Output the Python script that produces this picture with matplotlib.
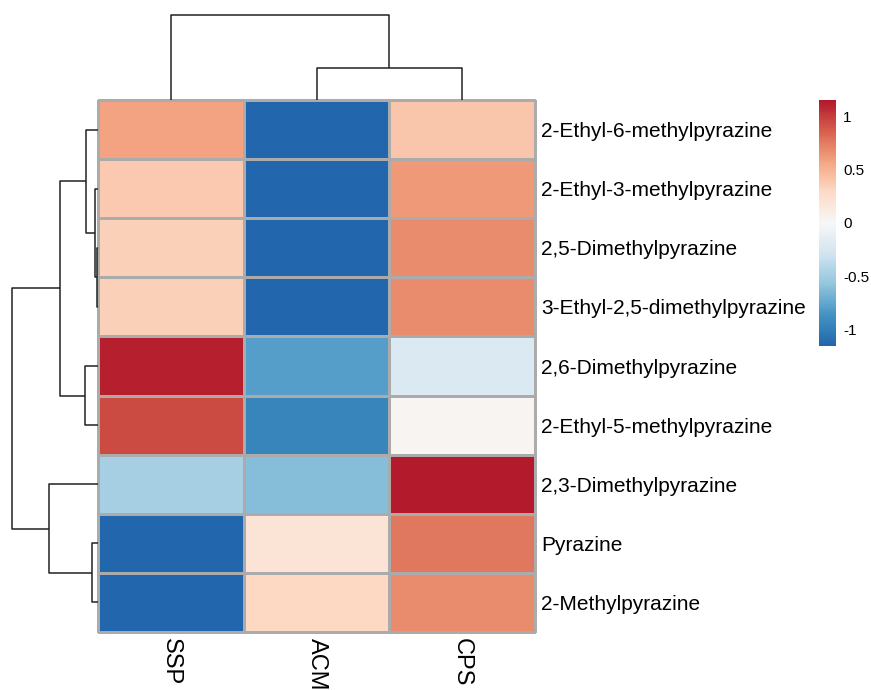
import numpy as np
import matplotlib
matplotlib.use("Agg")
import matplotlib.pyplot as plt
from matplotlib.colors import LinearSegmentedColormap

plt.rcParams['font.family'] = ['Liberation Sans', 'DejaVu Sans']

# rows in display order (top to bottom), columns left to right
compounds = [
    "2-Ethyl-6-methylpyrazine",
    "2-Ethyl-3-methylpyrazine",
    "2,5-Dimethylpyrazine",
    "3-Ethyl-2,5-dimethylpyrazine",
    "2,6-Dimethylpyrazine",
    "2-Ethyl-5-methylpyrazine",
    "2,3-Dimethylpyrazine",
    "Pyrazine",
    "2-Methylpyrazine",
]
samples = ["SSP", "ACM", "CPS"]

# row-scaled values (z-scores)
ssp = [0.58, 0.38, 0.35, 0.35, 1.12, 0.95, -0.48, -1.14, -1.14]
acm = [-1.14, -1.14, -1.14, -1.14, -0.80, -0.95, -0.62, 0.20, 0.30]
cps = [0.40, 0.63, 0.68, 0.68, -0.22, 0.03, 1.14, 0.76, 0.68]

# hierarchical clustering merges: (left, right, height); new ids follow the leaves
row_merges = [(2, 3, 0.015), (1, 9, 0.11), (0, 10, 0.57), (4, 5, 0.64),
              (11, 12, 1.86), (7, 8, 0.26), (6, 14, 2.41), (13, 15, 4.19)]
col_merges = [(1, 2, 1.52), (0, 3, 4.03)]

cbar_ticks = [-1, -0.5, 0, 0.5, 1]
cbar_labels = ["-1", "-0.5", "0", "0.5", "1"]

lim = 2 / np.sqrt(3)
cmap = LinearSegmentedColormap.from_list(
    "rdbu", ["#2166ac", "#4393c3", "#92c5de", "#d1e5f0", "#f7f7f7",
             "#fddbc7", "#f4a582", "#d6604d", "#b2182b"])

W, H = 871, 690
fig = plt.figure(figsize=(W / 100, H / 100), dpi=100)


def px_axes(x0, y0, x1, y1):
    return fig.add_axes([x0 / W, 1 - y1 / H, (x1 - x0) / W, (y1 - y0) / H])


def dendro_segments(merges, n):
    pos = {i: i + 0.5 for i in range(n)}
    hgt = {i: 0.0 for i in range(n)}
    segs = []
    for k, (a, b, h) in enumerate(merges):
        segs.append(([pos[a], pos[a], pos[b], pos[b]], [hgt[a], h, h, hgt[b]]))
        pos[n + k] = (pos[a] + pos[b]) / 2
        hgt[n + k] = h
    return segs


data = np.array([ssp, acm, cps]).T
nr, nc = data.shape

# heatmap
ax = px_axes(98, 100, 535, 632)
mesh = ax.pcolormesh(data, cmap=cmap, vmin=-lim, vmax=lim,
                     edgecolors="#ababab", linewidth=0.8)
mesh.set_clip_on(False)
ax.set_xlim(0, nc)
ax.set_ylim(nr, 0)
for s in ax.spines.values():
    s.set_visible(False)
ax.yaxis.tick_right()
ax.set_yticks(np.arange(nr) + 0.5)
ax.set_yticklabels(compounds, fontsize=15)
ax.set_xticks(np.arange(nc) + 0.5)
ax.set_xticklabels(samples, fontsize=17, rotation=270)
ax.tick_params(length=0, pad=4.5)
ax.tick_params(axis="x", pad=4)

# row dendrogram
axr = px_axes(12.3, 100, 97.7, 632)
for p, h in dendro_segments(row_merges, nr):
    axr.plot(h, p, color="#222222", lw=1.1, clip_on=False,
             solid_capstyle="butt")
axr.set_xlim(row_merges[-1][2], 0)
axr.set_ylim(nr, 0)
axr.axis("off")

# column dendrogram
axc = px_axes(98, 15, 535, 100)
for p, h in dendro_segments(col_merges, nc):
    axc.plot(p, h, color="#222222", lw=1.1, clip_on=False,
             solid_capstyle="butt")
axc.set_xlim(0, nc)
axc.set_ylim(0, col_merges[-1][2])
axc.axis("off")

# colour bar
cax = px_axes(819, 100, 836, 346)
cb = fig.colorbar(mesh, cax=cax)
cb.outline.set_visible(False)
cb.set_ticks(cbar_ticks)
cb.set_ticklabels(cbar_labels)
cb.ax.tick_params(length=0, labelsize=11, pad=5)

fig.savefig("out.png", dpi=100)
